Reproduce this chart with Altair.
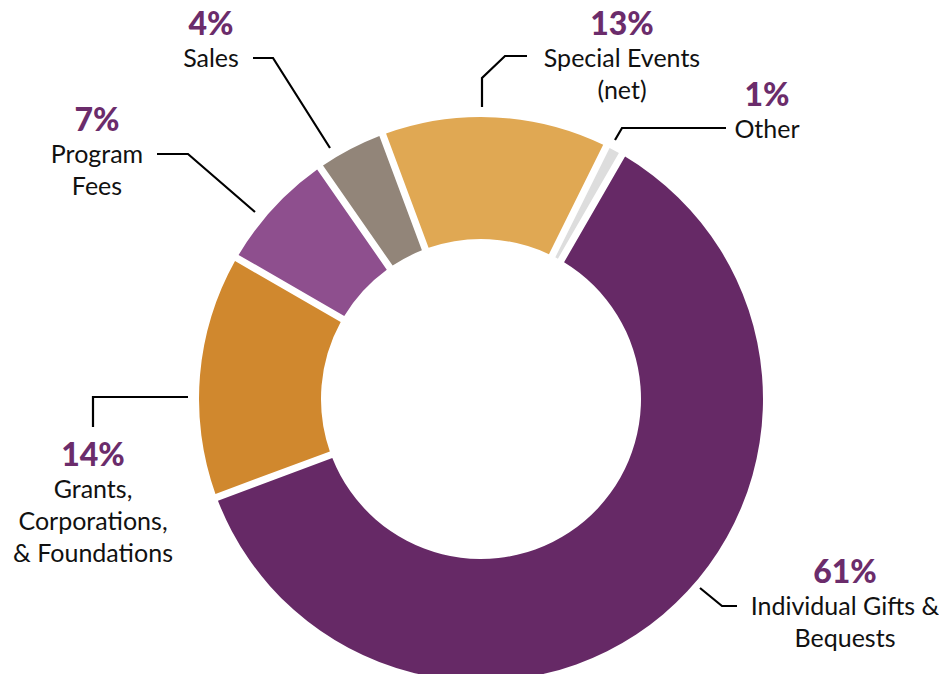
import math
import altair as alt
import pandas as pd

# ---- data ----
categories = ["Individual Gifts & Bequests", "Grants, Corporations, & Foundations",
              "Program Fees", "Sales", "Special Events (net)", "Other"]
values = [61, 14, 7, 4, 13, 1]
pct_labels = ["61%", "14%", "7%", "4%", "13%", "1%"]
name_lines = [["Individual Gifts &", "Bequests"],
              ["Grants,", "Corporations,", "& Foundations"],
              ["Program", "Fees"],
              ["Sales"],
              ["Special Events", "(net)"],
              ["Other"]]

# ---- styles / layout ----
colors = ["#662966", "#d0882e", "#8e4f8e", "#928579", "#e0a853", "#dddddd"]
pct_color = "#6b2c6b"
FONT = "Lato"
W, H = 931, 666
CX, CY = 481, 399          # donut centre (page coords)
R_OUT, R_IN = 282, 160
START = math.radians(30)   # first slice starts at 30 deg clockwise from top
LINE_H = 32
label_anchor = [(845, 583), (93, 466), (97, 131), (211, 35), (622, 35), (767, 106)]
leaders = [[(700, 588), (722, 606), (737, 606)],
           [(188, 397), (93, 397), (93, 427)],
           [(255, 212), (188, 154), (157, 154)],
           [(330, 148), (273, 58), (253, 58)],
           [(482, 107), (482, 78), (505, 56), (527, 56)],
           [(615, 140), (622, 128), (726, 128)]]

df = pd.DataFrame({"category": categories, "value": values,
                   "order": list(range(len(categories)))})

pct_df = pd.DataFrame({"text": pct_labels,
                       "x": [a[0] for a in label_anchor],
                       "y": [a[1] for a in label_anchor]})
name_rows = []
for lines, (ax, ay) in zip(name_lines, label_anchor):
    for i, t in enumerate(lines):
        name_rows.append({"text": t, "x": ax, "y": ay + LINE_H * (i + 1)})
name_df = pd.DataFrame(name_rows)

lead_rows = []
for k, pts in enumerate(leaders):
    for j, (px, py) in enumerate(pts):
        lead_rows.append({"id": k, "seq": j, "x": px, "y": py})
lead_df = pd.DataFrame(lead_rows)

xs = alt.Scale(domain=[8, 8 + W])
ys = alt.Scale(domain=[8, 8 + H], reverse=True)

arcs = alt.Chart(df).mark_arc(innerRadius=R_IN, outerRadius=R_OUT, padAngle=0.022).encode(
    theta=alt.Theta("value:Q", stack=True,
                    scale=alt.Scale(range=[START, START + 2 * math.pi])),
    order=alt.Order("order:Q"),
    color=alt.Color("category:N", scale=alt.Scale(domain=categories, range=colors),
                    legend=None),
    x=alt.value(CX - 8), y=alt.value(CY - 8),
)

lines = alt.Chart(lead_df).mark_line(color="black", strokeWidth=2.2).encode(
    x=alt.X("x:Q", scale=xs, axis=None),
    y=alt.Y("y:Q", scale=ys, axis=None),
    detail="id:N",
    order="seq:Q",
)

pct = alt.Chart(pct_df).mark_text(font=FONT, fontSize=32, fontWeight=900,
                                  color=pct_color, align="center",
                                  baseline="alphabetic").encode(
    x=alt.X("x:Q", scale=xs, axis=None),
    y=alt.Y("y:Q", scale=ys, axis=None),
    text="text:N",
)

names = alt.Chart(name_df).mark_text(font=FONT, fontSize=25, color="#111111",
                                     align="center", baseline="alphabetic").encode(
    x=alt.X("x:Q", scale=xs, axis=None),
    y=alt.Y("y:Q", scale=ys, axis=None),
    text="text:N",
)

chart = alt.layer(arcs, lines, pct, names).properties(
    width=W, height=H, padding=0, autosize="none"
).configure_view(stroke=None)

chart.save("out.html", embed_options={"renderer": "svg", "actions": False})
